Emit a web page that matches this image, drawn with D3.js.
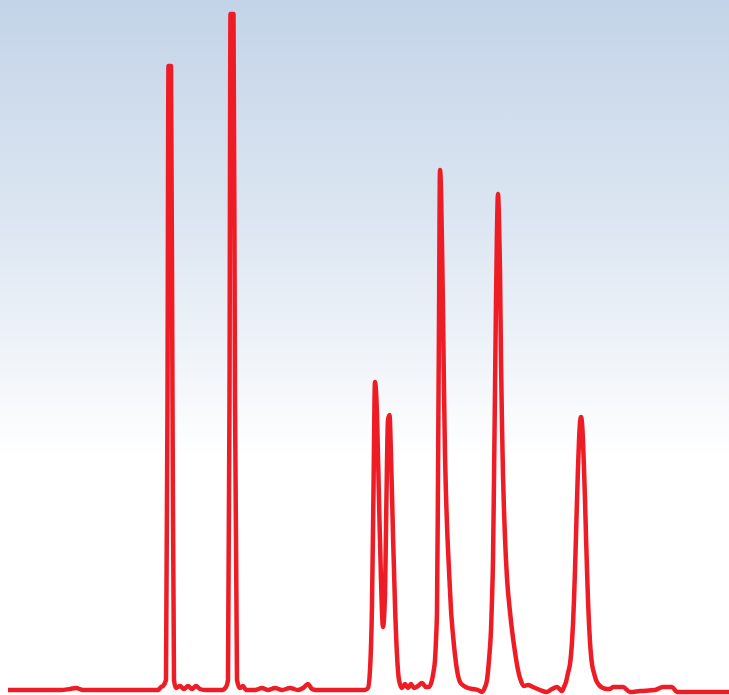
<!DOCTYPE html>
<html>
<head>
<meta charset="utf-8">
<script src="https://cdn.jsdelivr.net/npm/d3@7"></script>
<style>
  body { margin: 0; background: #fff; }
  svg { display: block; }
</style>
</head>
<body>
<div id="chart"></div>
<script>
// retention time (min) and detector signal (mAU)
var time = [
  0.8, 6.0, 7.0, 7.6, 8.3, 15.0, 15.8, 16.1, 16.3, 16.6, 16.75, 16.85, 17.1, 17.25, 17.4, 17.6, 18.0, 18.4, 18.8, 19.2, 19.6, 20.0, 20.5,
  22.2, 22.6, 22.8, 22.95, 23.05, 23.35, 23.5, 23.7, 24.0, 24.3, 24.6, 25.5, 26.2, 26.8, 27.5, 28.2, 29.0, 29.8, 30.3, 30.8, 31.2, 31.6,
  36.5, 36.8, 37.0, 37.2, 37.35, 37.5, 37.7, 37.9, 38.1, 38.3, 38.5, 38.65, 38.8, 38.95, 39.1, 39.3, 39.5, 39.7, 39.9, 40.2, 40.5, 40.8, 41.1, 41.4, 41.8, 42.2,
  42.6, 42.9, 43.15, 43.35, 43.5, 43.6, 43.7, 43.8, 43.9, 44.0, 44.1, 44.2, 44.3, 44.4, 44.5, 44.6, 44.7, 44.9, 45.1, 45.3, 45.5, 45.7, 46.0, 46.4, 46.8, 47.3, 47.8, 48.2,
  48.5, 48.7, 48.9, 49.1, 49.2, 49.3, 49.4, 49.5, 49.6, 49.7, 49.8, 49.9, 50.0, 50.1, 50.2, 50.3, 50.4, 50.5, 50.7, 51.0, 51.2, 51.5, 51.8, 52.0, 52.4, 52.8, 53.3, 54.0, 54.7, 55.2, 55.7, 56.2,
  56.4, 56.6, 56.8, 57.0, 57.1, 57.2, 57.3, 57.4, 57.5, 57.6, 57.7, 57.8, 57.9, 58.0, 58.1, 58.2, 58.3, 58.4, 58.5, 58.6, 58.7, 58.8, 58.9, 59.0, 59.1, 59.2, 59.4, 59.6, 59.9, 60.3, 60.7, 61.0, 61.3, 61.8, 62.3, 63.0,
  64.0, 65.5, 66.3, 66.8, 67.2, 67.7, 72.9
];
var signal = [
  0, 0, 1, 2, 0, 0, 0, 3, 4, 10, 290, 624, 624, 290, 10, 2, 4, 1, 4, 1, 4, 1, 0,
  0, 3, 10, 290, 676, 676, 290, 10, 2, 4, 0, 0, 2, 0, 2, 0, 2, 0, 2, 6, 1, 0,
  0, 2, 20, 85, 200, 308, 275, 190, 110, 63, 95, 195, 270, 275, 235, 155, 85, 35, 10, 2, 6, 2, 6, 2, 4, 7,
  3, 3, 8, 18, 30, 50, 80, 210, 370, 520, 500, 445, 380, 300, 235, 195, 165, 120, 80, 55, 35, 20, 8, 4, 2, 1, 0, -2,
  3, 10, 30, 60, 90, 130, 210, 300, 390, 460, 496, 470, 420, 330, 265, 215, 180, 152, 112, 78, 60, 38, 20, 12, 4, 5, 3, 0, -2, 1, 3, -1,
  3, 8, 17, 26, 35, 48, 66, 90, 120, 154, 190, 222, 249, 267, 273, 267, 249, 222, 190, 154, 120, 90, 66, 48, 35, 26, 17, 10, 5, 2, 1, 1, 3, 3, 3, -2,
  -1, 0, 3, 3, 3, -2, -2
];

var width = 729, height = 695;

var x = d3.scaleLinear().domain([0, 72.9]).range([0, width]);
var y = d3.scaleLinear().domain([0, 676]).range([690, 14]);

var svg = d3.select("#chart").append("svg")
    .attr("width", width)
    .attr("height", height);

var grad = svg.append("defs").append("linearGradient")
    .attr("id", "bg")
    .attr("x1", 0).attr("y1", 0)
    .attr("x2", 0).attr("y2", 1);
grad.append("stop").attr("offset", "0%").attr("stop-color", "#c3d4e8");
grad.append("stop").attr("offset", "35%").attr("stop-color", "#dfe8f3");
grad.append("stop").attr("offset", "66%").attr("stop-color", "#ffffff");
grad.append("stop").attr("offset", "100%").attr("stop-color", "#ffffff");

svg.append("rect")
    .attr("width", width)
    .attr("height", height)
    .attr("fill", "url(#bg)");

var line = d3.line()
    .x(function(d){ return x(d[0]); })
    .y(function(d){ return y(d[1]); })
    .curve(d3.curveMonotoneX);

svg.append("path")
    .datum(d3.zip(time, signal))
    .attr("d", line)
    .attr("fill", "none")
    .attr("stroke", "#ee1c25")
    .attr("stroke-width", 4.5)
    .attr("stroke-linejoin", "round")
    .attr("stroke-linecap", "butt");
</script>
</body>
</html>
